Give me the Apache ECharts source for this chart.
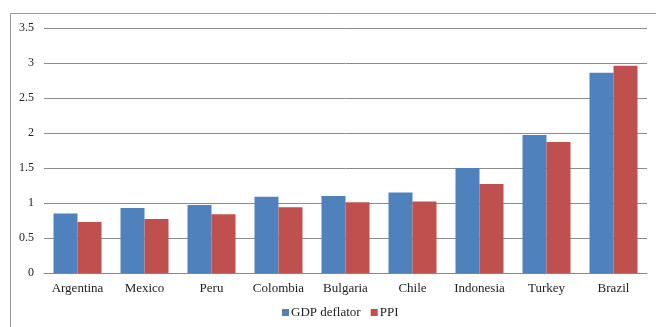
<!DOCTYPE html>
<html>
<head>
<meta charset="utf-8">
<script src="https://cdn.jsdelivr.net/npm/echarts@6/dist/echarts.min.js"></script>
<style>
  html, body { margin: 0; padding: 0; background: #fff; }
  #chart { width: 656px; height: 327px; }
</style>
</head>
<body>
<div id="chart"></div>
<script>
var countries = ['Argentina', 'Mexico', 'Peru', 'Colombia', 'Bulgaria', 'Chile', 'Indonesia', 'Turkey', 'Brazil'];
var gdpDeflator = [0.85, 0.93, 0.97, 1.09, 1.10, 1.15, 1.50, 1.97, 2.86];
var ppi = [0.73, 0.77, 0.84, 0.94, 1.01, 1.02, 1.27, 1.87, 2.96];
var yTicks = [0, 0.5, 1, 1.5, 2, 2.5, 3, 3.5];

var font = '"Liberation Serif", "Times New Roman", serif';
var myChart = echarts.init(document.getElementById('chart'));

var option = {
  animation: false,
  textStyle: { fontFamily: font },
  graphic: [{
    type: 'rect',
    shape: { x: 10.5, y: 13.5, width: 700, height: 400 },
    style: { fill: 'none', stroke: '#9a9a9a', lineWidth: 1 },
    silent: true
  }],
  grid: { left: 44, right: 9, top: 28, bottom: 54 },
  legend: {
    bottom: 3,
    left: 277,
    itemWidth: 7,
    itemHeight: 7,
    itemGap: 10,
    icon: 'rect',
    textStyle: { fontFamily: font, fontSize: 13, color: '#222', padding: [0, 0, 0, -3] },
    data: ['GDP deflator', 'PPI']
  },
  xAxis: {
    type: 'category',
    data: countries,
    axisLine: { lineStyle: { color: '#888', width: 1 } },
    axisTick: { show: false },
    axisLabel: { color: '#222', fontSize: 13, fontFamily: font, margin: 9, interval: 0, hideOverlap: false }
  },
  yAxis: {
    type: 'value',
    min: yTicks[0],
    max: yTicks[yTicks.length - 1],
    interval: 0.5,
    axisLine: { show: false },
    axisTick: { show: false },
    axisLabel: { color: '#222', fontSize: 12, fontFamily: font, margin: 10 },
    splitLine: { lineStyle: { color: '#8c8c8c', width: 1 } }
  },
  series: [
    {
      name: 'GDP deflator',
      type: 'bar',
      data: gdpDeflator,
      barWidth: 24,
      barGap: '0%',
      itemStyle: { color: '#4F81BD' }
    },
    {
      name: 'PPI',
      type: 'bar',
      data: ppi,
      barWidth: 24,
      barGap: '0%',
      itemStyle: { color: '#C0504D' }
    }
  ]
};
myChart.setOption(option);
</script>
</body>
</html>
